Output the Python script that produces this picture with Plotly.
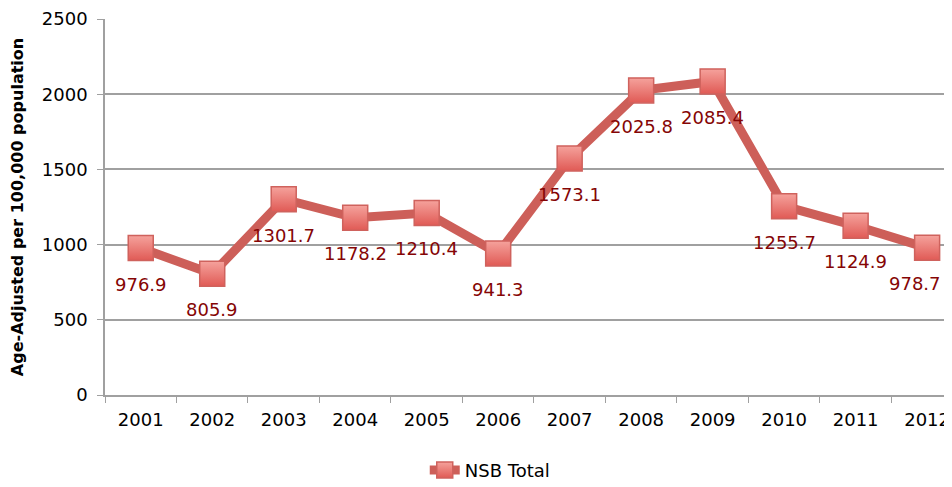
import plotly.graph_objects as go

years = ["2001", "2002", "2003", "2004", "2005", "2006", "2007", "2008", "2009", "2010", "2011", "2012"]
nsb_total = [976.9, 805.9, 1301.7, 1178.2, 1210.4, 941.3, 1573.1, 2025.8, 2085.4, 1255.7, 1124.9, 978.7]
y_ticks = [0, 500, 1000, 1500, 2000, 2500]

FONT = "DejaVu Sans"

fig = go.Figure()
fig.add_trace(go.Scatter(
    x=years, y=nsb_total, mode="lines+markers", name="NSB Total",
    line=dict(color="#CD5F59", width=9),
    marker=dict(symbol="square", size=25, color="#F5A29C",
                gradient=dict(type="vertical", color="#E05A55"),
                line=dict(color="#CF625D", width=1.5)),
))

n = len(nsb_total)
for i, v in enumerate(nsb_total):
    fig.add_annotation(x=i, y=v, xref="x", yref="y", text=f"{v:.1f}", showarrow=False,
                       yshift=-36, xshift=(-12 if i == n - 1 else 0),
                       font=dict(family=FONT, size=18, color="#850505"))

fig.update_layout(
    width=952, height=487,
    margin=dict(l=97, r=0, t=11, b=100, autoexpand=False),
    plot_bgcolor="white", paper_bgcolor="white",
    font=dict(family=FONT, size=18, color="black"),
    showlegend=True,
    legend=dict(orientation="h", x=0.45, xanchor="center", y=-0.2, yanchor="middle",
                font=dict(family=FONT, size=18)),
)
fig.update_xaxes(
    type="category", showgrid=False, showline=True, linecolor="#A0A0A0", linewidth=1.5,
    ticks="outside", ticklen=6, tickcolor="#A0A0A0", tickson="boundaries",
    tickfont=dict(size=18), range=[-0.5, 11.46], ticklabelstandoff=8,
)
fig.update_yaxes(
    range=[0, 2500.5], tickvals=y_ticks, showgrid=True, gridcolor="#A0A0A0", gridwidth=1.5,
    showline=True, linecolor="#A0A0A0", linewidth=1.5, ticks="outside", ticklen=6,
    tickcolor="#A0A0A0", tickfont=dict(size=18), zeroline=False, ticklabelstandoff=6,
    ticklabeloverflow="allow",
    title=dict(text="<b>Age-Adjusted per 100,000 population</b>", font=dict(size=16), standoff=20),
)

fig.write_html("out.html")
